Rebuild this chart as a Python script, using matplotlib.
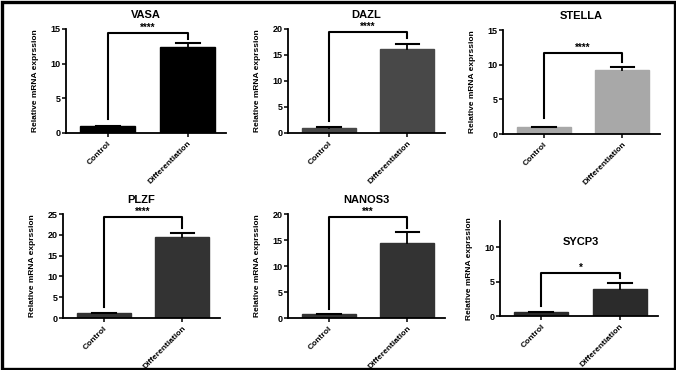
import matplotlib
matplotlib.use("Agg")
import matplotlib.pyplot as plt
from matplotlib.patches import Rectangle

plt.rcParams['font.family'] = ['Liberation Sans', 'DejaVu Sans']
plt.rcParams['font.weight'] = 'bold'

groups = ["Control", "Differentiation"]
genes = ["VASA", "DAZL", "STELLA", "PLZF", "NANOS3", "SYCP3"]
means = [[1.0, 12.45], [1.0, 16.2], [1.0, 9.3], [1.1, 19.5], [0.7, 14.5], [0.6, 3.9]]
errors = [[0.05, 0.6], [0.1, 0.9], [0.05, 0.35], [0.1, 0.9], [0.05, 2.0], [0.05, 0.9]]
stars = ["****", "****", "****", "****", "***", "*"]
# bracket: height, left leg bottom, right leg bottom
brackets = [[14.4, 2.0, 13.5], [19.5, 2.4, 18.2], [11.7, 2.3, 10.4],
            [24.3, 2.6, 21.7], [19.5, 1.7, 17.3], [6.2, 1.5, 5.5]]
ylims = [15, 20, 15, 25, 20, 13.8]
yticks = [[0, 5, 10, 15], [0, 5, 10, 15, 20], [0, 5, 10, 15],
          [0, 5, 10, 15, 20, 25], [0, 5, 10, 15, 20], [0, 5, 10]]
colors = ["#000000", "#484848", "#a8a8a8", "#333333", "#333333", "#2b2b2b"]

# axes boxes in pixels: x0, x1, y_top, y_zero
boxes = [(66, 226, 29, 133), (288, 445, 29, 133), (503, 660, 30, 134),
         (63, 220, 214, 318), (288, 445, 214, 318), (500, 658, 221, 316)]

W, H = 676, 370
fig = plt.figure(figsize=(W / 100, H / 100), dpi=100)

for i, g in enumerate(genes):
    x0, x1, yt, yz = boxes[i]
    ax = fig.add_axes([x0 / W, 1 - yz / H, (x1 - x0) / W, (yz - yt) / H])
    xs = [0, 1]
    ax.bar(xs, means[i], width=0.69, color=colors[i], edgecolor=colors[i], zorder=2)
    for x, m, e in zip(xs, means[i], errors[i]):
        ax.plot([x, x], [m, m + e], color="black", lw=1.3, zorder=3)
        ax.plot([x - 0.15, x + 0.15], [m + e, m + e], color="black", lw=1.5, zorder=3)
    b, lb, rb = brackets[i]
    ax.plot([0, 0, 1, 1], [lb, b, b, rb], color="black", lw=1.5, zorder=3)
    ax.text(0.5, b, stars[i], ha="center", va="bottom", fontsize=7, fontweight="bold")
    ax.set_xlim(-0.52, 1.48)
    ax.set_ylim(0, ylims[i])
    ax.set_yticks(yticks[i])
    ax.set_xticks(xs)
    ax.set_xticklabels(groups, rotation=45, ha="right", rotation_mode="anchor",
                       fontsize=6, fontweight="bold")
    ax.tick_params(axis="y", labelsize=6.5, length=3, width=1.1, pad=1)
    ax.tick_params(axis="x", length=3, width=1.1, pad=2)
    for lab in ax.get_yticklabels():
        lab.set_fontweight("bold")
    for s in ["top", "right"]:
        ax.spines[s].set_visible(False)
    for s in ["left", "bottom"]:
        ax.spines[s].set_linewidth(1.3)
    ax.set_ylabel("Relative mRNA exprssion", fontsize=6, fontweight="bold", labelpad=8)
    if g == "SYCP3":
        ax.text(0.5, 10.8, g, ha="center", va="center", fontsize=8, fontweight="bold")
    else:
        ax.set_title(g, fontsize=8, fontweight="bold", pad=8)

fig.patches.append(Rectangle((1.5 / W, 1.5 / H), 1 - 3 / W, 1 - 3 / H,
                             transform=fig.transFigure, fill=False,
                             edgecolor="black", lw=2.4, zorder=10))

fig.savefig("out.png", dpi=100)
